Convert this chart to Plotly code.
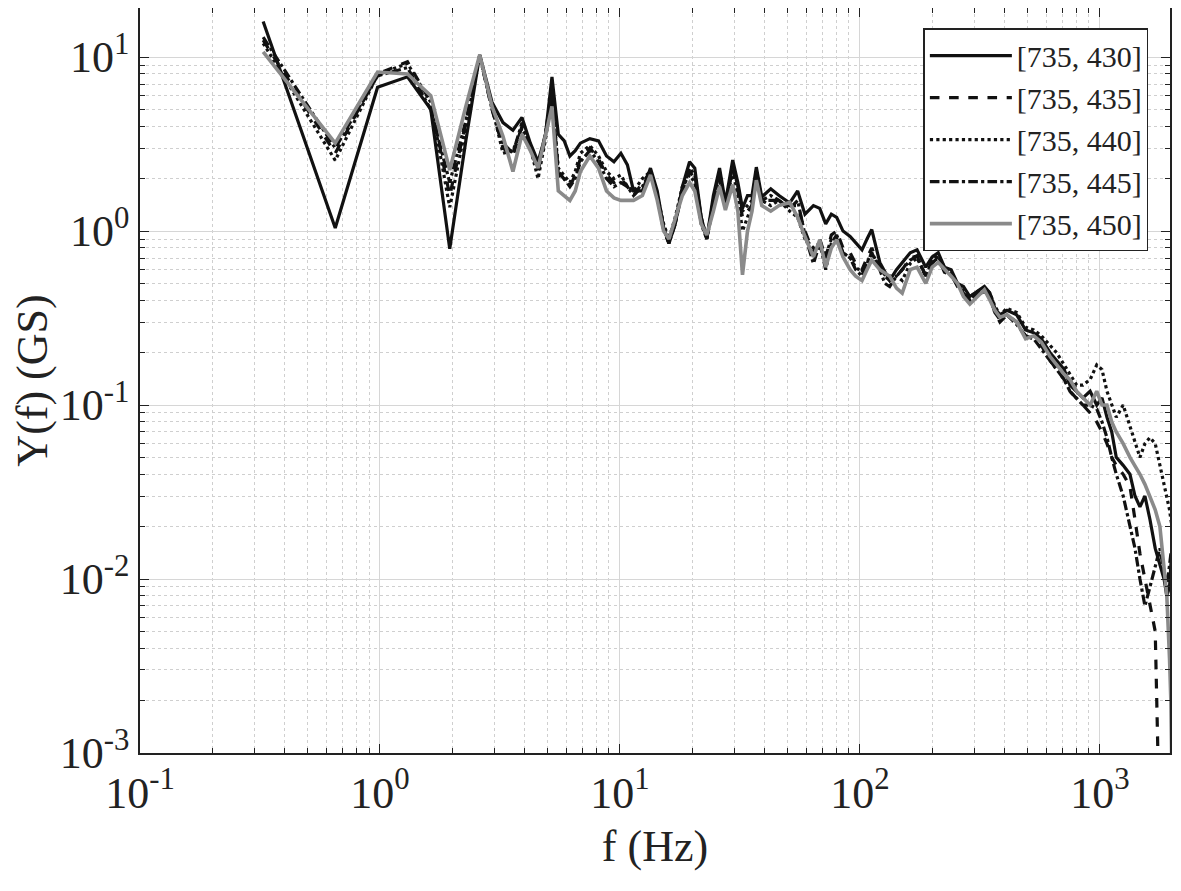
import plotly.graph_objects as go

# frequency grid (Hz), shared by all five spectra
freq = [
    0.326, 0.651, 0.977, 1.302, 1.628, 1.953, 2.279, 2.604, 2.93, 3.255,
    3.581, 3.906, 4.232, 4.557, 4.883, 5.208, 5.534, 5.86, 6.185, 6.51,
    6.84, 7.49, 8.14, 8.79, 9.44, 10.09, 10.74, 11.39, 12.4, 13.4,
    14.3, 15.2, 16.0, 17.0, 18.2, 19.5, 20.5, 21.8, 23.0, 24.5,
    26.0, 27.5, 29.5, 31.0, 32.4, 34.0, 35.5, 37.0, 39.0, 42.5,
    46, 51, 55, 59, 64, 68, 72, 76, 80, 85,
    91, 96, 102, 107, 112, 121, 127, 133, 142, 150,
    162, 173, 188, 200, 212, 225, 240, 255, 270, 287,
    310, 330, 348, 365, 383, 410, 450, 490, 530, 570,
    620, 660, 710, 750, 800, 850, 910, 970, 1020, 1070,
    1120, 1170, 1250, 1334, 1400, 1468, 1540, 1616, 1700, 1778,
    1850, 1900, 1950, 1975, 2000,
]

y_430 = [
    16.0, 1.04, 6.7, 7.7, 5.0, 0.79, 3.3, 10.3, 5.5, 4.2,
    3.8, 4.5, 3.2, 2.5, 3.5, 7.7, 3.6, 3.3, 2.7, 2.9,
    3.2, 3.4, 3.3, 2.7, 2.5, 2.8, 2.4, 1.7, 1.7, 2.3,
    1.7, 1.05, 0.85, 1.1, 1.8, 2.5, 2.3, 1.2, 0.9, 1.6,
    2.3, 1.46, 2.56, 1.9, 1.35, 1.6, 1.6, 2.33, 1.57, 1.75,
    1.6, 1.45, 1.7, 1.25, 1.4, 1.35, 1.1, 1.25, 1.2, 1.0,
    0.93, 0.85, 0.78, 0.9, 1.02, 0.66, 0.58, 0.52, 0.6, 0.66,
    0.75, 0.78, 0.62, 0.71, 0.75, 0.62, 0.6, 0.5, 0.48, 0.42,
    0.45, 0.48, 0.44, 0.36, 0.33, 0.35, 0.33, 0.27, 0.26, 0.24,
    0.2, 0.18, 0.16, 0.13, 0.12, 0.11, 0.12, 0.1, 0.11, 0.085,
    0.07, 0.05, 0.045, 0.04, 0.03, 0.026, 0.03, 0.022, 0.015, 0.012,
    0.01, 0.008, 0.009, 0.012, 0.015,
]

y_435 = [
    12.5, 2.8, 8.0, 9.4, 5.5, 1.6, 4.2, 10.2, 5.0, 3.0,
    2.7, 4.0, 3.0, 2.2, 3.4, 6.0, 2.2, 2.0, 1.8, 2.1,
    2.6, 3.0, 2.6, 2.1, 1.9, 2.0, 1.8, 1.6, 1.9, 2.2,
    1.6, 1.0, 0.85, 1.15, 1.7, 2.2, 2.0, 1.15, 0.9, 1.45,
    2.1, 1.4, 2.3, 1.7, 1.2, 1.3, 1.4, 2.2, 1.5, 1.5,
    1.5, 1.4, 1.4, 1.0, 0.75, 0.9, 0.7, 0.95, 1.0, 0.8,
    0.75, 0.65, 0.6, 0.7, 0.8, 0.62, 0.55, 0.52, 0.55, 0.6,
    0.7, 0.72, 0.55, 0.66, 0.7, 0.58, 0.56, 0.48, 0.44, 0.4,
    0.43, 0.45, 0.42, 0.34, 0.3, 0.33, 0.3, 0.25, 0.24, 0.22,
    0.18, 0.16, 0.14, 0.12, 0.11, 0.1, 0.09, 0.08, 0.07, 0.06,
    0.05, 0.045, 0.04, 0.034, 0.022, 0.014, 0.01, 0.0072, 0.005, 0.0003,
    0.0003, 0.0003, 0.0003, 0.0003, 0.0003,
]

y_440 = [
    12.0, 2.55, 7.9, 9.2, 5.5, 1.37, 4.0, 10.2, 5.2, 2.8,
    2.9, 3.9, 3.0, 2.0, 3.3, 6.0, 2.3, 2.1, 1.9, 2.2,
    2.8, 3.1, 2.7, 2.2, 2.0, 2.1, 1.8, 1.7, 2.0, 2.2,
    1.6, 1.1, 0.9, 1.2, 1.8, 2.1, 1.9, 1.1, 0.9, 1.4,
    2.0, 1.4, 2.2, 1.6, 1.0, 1.2, 1.4, 2.0, 1.5, 1.4,
    1.5, 1.3, 1.2, 0.9, 0.8, 0.85, 0.72, 0.9, 0.9, 0.75,
    0.7, 0.62, 0.58, 0.66, 0.75, 0.62, 0.56, 0.55, 0.55, 0.52,
    0.65, 0.7, 0.55, 0.65, 0.72, 0.62, 0.56, 0.5, 0.45, 0.42,
    0.45, 0.47, 0.44, 0.37, 0.33, 0.36, 0.34, 0.28, 0.27, 0.25,
    0.22, 0.2, 0.17, 0.15, 0.13, 0.13, 0.14, 0.17, 0.16, 0.12,
    0.1, 0.085, 0.1, 0.075, 0.06, 0.05, 0.06, 0.065, 0.06, 0.045,
    0.035, 0.03, 0.025, 0.022, 0.02,
]

y_445 = [
    13.0, 3.0, 7.8, 8.7, 5.0, 1.9, 4.3, 10.2, 5.0, 3.2,
    2.8, 4.2, 3.0, 2.3, 3.6, 6.5, 2.1, 2.0, 1.8, 2.0,
    2.5, 2.9, 2.5, 2.0, 1.8, 1.9, 1.8, 1.6, 1.8, 2.2,
    1.6, 1.05, 0.85, 1.1, 1.7, 2.3, 2.1, 1.2, 0.9, 1.5,
    2.2, 1.4, 2.4, 1.8, 1.3, 1.4, 1.5, 2.2, 1.5, 1.6,
    1.5, 1.35, 1.5, 0.95, 0.65, 0.85, 0.6, 0.85, 0.95, 0.75,
    0.7, 0.6, 0.55, 0.65, 0.75, 0.6, 0.5, 0.48, 0.55, 0.6,
    0.68, 0.72, 0.55, 0.68, 0.72, 0.6, 0.58, 0.5, 0.44, 0.4,
    0.44, 0.46, 0.43, 0.34, 0.31, 0.33, 0.29, 0.25, 0.24, 0.21,
    0.18, 0.16, 0.14, 0.12, 0.11, 0.1, 0.1, 0.095, 0.08, 0.065,
    0.05, 0.04, 0.03, 0.02, 0.015, 0.01, 0.007, 0.009, 0.012, 0.015,
    0.011, 0.009, 0.012, 0.014, 0.013,
]

y_450 = [
    10.7, 3.2, 8.2, 8.0, 6.0, 2.24, 5.2, 10.3, 5.2, 3.5,
    2.2, 3.6, 2.9, 2.3, 3.5, 5.2, 1.7, 1.6, 1.5, 1.7,
    2.2, 2.7, 2.3, 1.7, 1.55, 1.5, 1.5, 1.5, 1.6, 2.1,
    1.5, 1.0, 0.9, 1.2, 1.6, 1.9, 1.7, 1.1, 0.95, 1.3,
    1.8, 1.32, 1.85, 1.3, 0.56, 1.0, 1.3, 1.96, 1.4, 1.3,
    1.4, 1.46, 1.2, 0.93, 0.71, 0.89, 0.62, 0.8, 0.89, 0.71,
    0.6, 0.55, 0.52, 0.6, 0.68, 0.6, 0.57, 0.55, 0.47, 0.44,
    0.6, 0.62, 0.5, 0.62, 0.66, 0.6, 0.55, 0.5, 0.42, 0.38,
    0.42, 0.46, 0.4, 0.35, 0.32, 0.33, 0.3, 0.24, 0.25, 0.23,
    0.19, 0.17, 0.15, 0.14, 0.12, 0.11, 0.1, 0.12, 0.1, 0.1,
    0.08, 0.07, 0.06, 0.05, 0.045, 0.04, 0.035, 0.03, 0.025, 0.02,
    0.012, 0.008, 0.0035, 0.002, 0.0006,
]

labels = ["[735, 430]", "[735, 435]", "[735, 440]", "[735, 445]", "[735, 450]"]
series = [y_430, y_435, y_440, y_445, y_450]
styles = [
    dict(color="#111111", dash="solid", width=3.2),
    dict(color="#111111", dash="dash", width=3.2),
    dict(color="#111111", dash="dot", width=3.2),
    dict(color="#111111", dash="dashdot", width=3.2),
    dict(color="#8a8a8a", dash="solid", width=3.6),
]

x_major = [0.1, 1, 10, 100, 1000]
x_major_text = ["10<sup>-1</sup>", "10<sup>0</sup>", "10<sup>1</sup>", "10<sup>2</sup>", "10<sup>3</sup>"]
y_major = [0.001, 0.01, 0.1, 1, 10]
y_major_text = ["10<sup>-3</sup>", "10<sup>-2</sup>", "10<sup>-1</sup>", "10<sup>0</sup>", "10<sup>1</sup>"]

x_minor = [m * 10.0 ** e for e in range(-1, 4) for m in range(2, 10)]
y_minor = [m * 10.0 ** e for e in range(-3, 2) for m in range(2, 10)]

fig = go.Figure()
for name, yv, st in zip(labels, series, styles):
    fig.add_trace(go.Scatter(x=freq, y=yv, mode="lines", name=name,
                             line=dict(color=st["color"], dash=st["dash"], width=st["width"])))

font_family = "Times New Roman, Liberation Serif, serif"
axis_common = dict(
    type="log",
    automargin=False,
    showline=True, linecolor="#222222", linewidth=1.5,
    mirror="allticks", ticks="inside", ticklen=9, tickcolor="#222222",
    showgrid=True, gridcolor="#d6d6d6", gridwidth=1,
    zeroline=False,
    tickfont=dict(family=font_family, size=44, color="#222222"),
)

fig.update_layout(
    width=1181, height=891,
    paper_bgcolor="white", plot_bgcolor="white",
    margin=dict(l=132, r=19, t=0, b=146),
    font=dict(family=font_family, color="#222222"),
    showlegend=True,
    legend=dict(
        x=0.979, y=0.973, xanchor="right", yanchor="top",
        bgcolor="white", bordercolor="#222222", borderwidth=1.5,
        font=dict(family=font_family, size=30, color="#222222"),
        itemwidth=82, tracegroupgap=0,
    ),
    xaxis=dict(
        **axis_common,
        range=[-1, 3.292],
        tickvals=x_major, ticktext=x_major_text,
        minor=dict(tickvals=x_minor, ticks="inside", ticklen=5, tickcolor="#222222",
                   showgrid=True, gridcolor="#cfcfcf", griddash="dot", gridwidth=1),
        title=dict(text="f (Hz)", font=dict(family=font_family, size=44, color="#222222"), standoff=14),
    ),
    yaxis=dict(
        **axis_common,
        range=[-3, 1.282],
        tickvals=y_major, ticktext=y_major_text,
        minor=dict(tickvals=y_minor, ticks="inside", ticklen=5, tickcolor="#222222",
                   showgrid=True, gridcolor="#cfcfcf", griddash="dot", gridwidth=1),
        title=dict(text="Y(f) (GS)", font=dict(family=font_family, size=44, color="#222222"), standoff=8),
    ),
)

fig.write_html("out.html")
